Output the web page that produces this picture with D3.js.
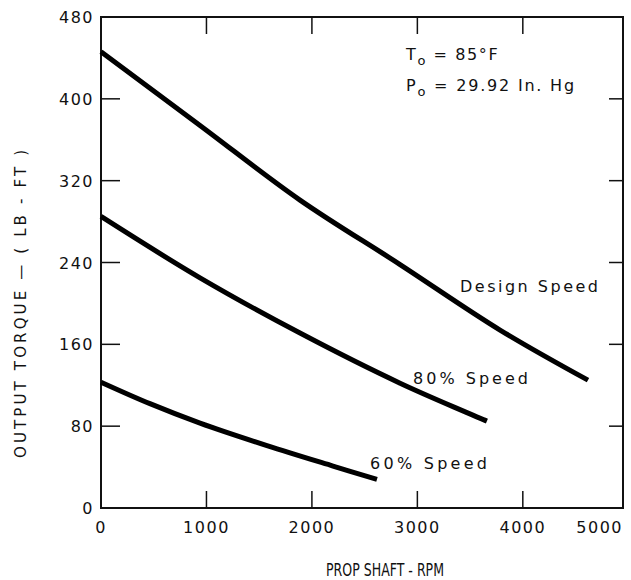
<!DOCTYPE html>
<html><head><meta charset="utf-8">
<script src="https://cdn.jsdelivr.net/npm/d3@7"></script>
<style>
html,body{margin:0;padding:0;background:#fff;}
text{font-family:"DejaVu Sans",sans-serif;fill:#111;}
</style></head>
<body><svg id="c" width="631" height="580"></svg>
<script>
const xTicks = [0,1000,2000,3000,4000,5000];
const yTicks = [0,80,160,240,320,400,480];
const designX = [0,939,1887,2836,3784,4618];
const designY = [446,374,301,238,174,125];
const s80X = [0,939,1887,2836,3660];
const s80Y = [285,225,171,122,85];
const s60X = [0,464,939,1574,2200,2617];
const s60Y = [123,102,83,61,41,28];
const seriesNames = ["Design Speed","80% Speed","60% Speed"];

const svg = d3.select("#c");
const x = d3.scaleLinear().domain([0,4950]).range([101,623]);
const y = d3.scaleLinear().domain([0,480]).range([508,17]);

// frame
svg.append("rect").attr("x",x(0)).attr("y",y(480)).attr("width",x(4950)-x(0)).attr("height",y(0)-y(480))
  .attr("fill","none").attr("stroke","#111").attr("stroke-width",2);

// inner ticks
const innerX = xTicks.filter(v=>v>0 && v<5000);
const innerY = yTicks.filter(v=>v>0 && v<480);
innerX.forEach(v=>{
  svg.append("line").attr("x1",x(v)).attr("x2",x(v)).attr("y1",y(0)).attr("y2",y(0)-17).attr("stroke","#111").attr("stroke-width",1.5);
  svg.append("line").attr("x1",x(v)).attr("x2",x(v)).attr("y1",y(480)).attr("y2",y(480)+17).attr("stroke","#111").attr("stroke-width",1.5);
});
innerY.forEach(v=>{
  svg.append("line").attr("x1",x(0)).attr("x2",x(0)+19).attr("y1",y(v)).attr("y2",y(v)).attr("stroke","#111").attr("stroke-width",1.5);
  svg.append("line").attr("x1",x(4950)).attr("x2",x(4950)-14).attr("y1",y(v)).attr("y2",y(v)).attr("stroke","#111").attr("stroke-width",1.5);
});

// tick labels
xTicks.forEach(v=>{
  const last = v===5000;
  svg.append("text").attr("x", last ? x(4950) : x(v)).attr("y",533)
    .attr("text-anchor", last ? "end" : "middle").attr("font-size",16).attr("letter-spacing",1.5)
    .text(v);
});
yTicks.forEach(v=>{
  svg.append("text").attr("x",94).attr("y",y(v)+6)
    .attr("text-anchor","end").attr("font-size",16).attr("letter-spacing",1.5)
    .text(v);
});

// axis titles
svg.append("text").attr("x",326).attr("y",576)
  .attr("font-size",17).attr("textLength",118).attr("lengthAdjust","spacingAndGlyphs").text("PROP SHAFT - RPM");
svg.append("text").attr("transform","translate(26,458) rotate(-90)")
  .attr("font-size",15).attr("textLength",308).attr("lengthAdjust","spacing").text("OUTPUT TORQUE — ( LB - FT )");

// curves
const line = d3.line().x(d=>x(d[0])).y(d=>y(d[1])).curve(d3.curveCatmullRom.alpha(0.5));
const series = [[designX,designY],[s80X,s80Y],[s60X,s60Y]];
series.forEach(([xs,ys])=>{
  svg.append("path").attr("d", line(xs.map((v,i)=>[v,ys[i]])))
    .attr("fill","none").attr("stroke","#000").attr("stroke-width",5).attr("stroke-linecap","butt");
});

// series labels
const labelPos = [[460,292,138],[413,384,115],[370,469,117]];
seriesNames.forEach((n,i)=>{
  svg.append("text").attr("x",labelPos[i][0]).attr("y",labelPos[i][1])
    .attr("font-size",16).attr("textLength",labelPos[i][2]).attr("lengthAdjust","spacing").text(n);
});

// conditions
const t1 = svg.append("text").attr("x",406).attr("y",60).attr("font-size",16).attr("letter-spacing",1.6);
t1.append("tspan").text("T");
t1.append("tspan").attr("font-size",13).attr("dy",5).text("o");
t1.append("tspan").attr("dy",-5).text(" = 85°F");
const t2 = svg.append("text").attr("x",406).attr("y",91).attr("font-size",16).attr("letter-spacing",1.8);
t2.append("tspan").text("P");
t2.append("tspan").attr("font-size",13).attr("dy",5).text("o");
t2.append("tspan").attr("dy",-5).text(" = 29.92 In. Hg");
</script></body></html>
